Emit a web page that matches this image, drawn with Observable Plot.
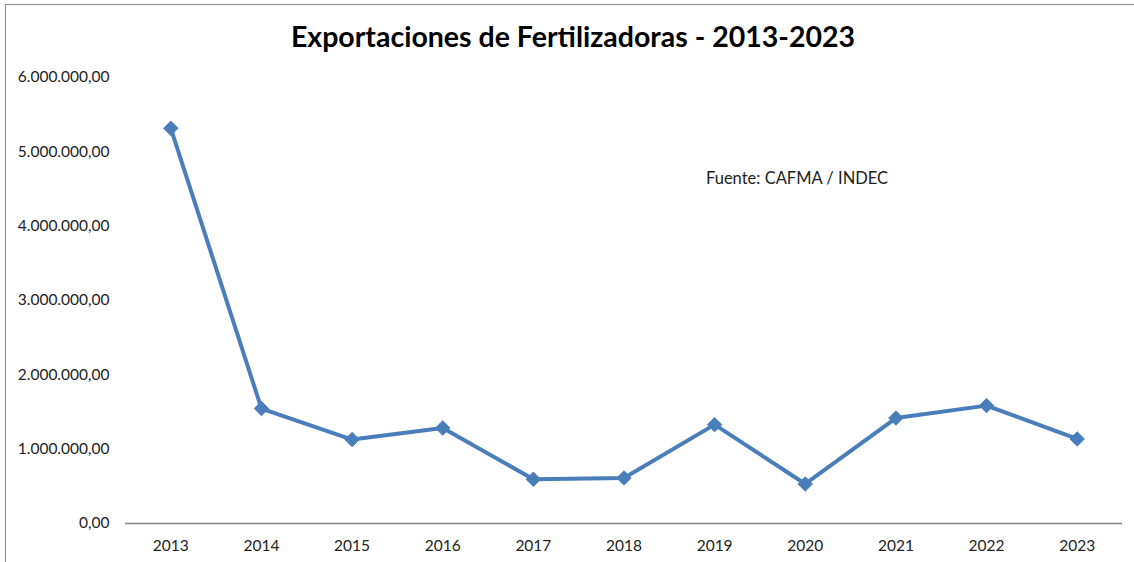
<!DOCTYPE html>
<html>
<head>
<meta charset="utf-8">
<script src="https://cdn.jsdelivr.net/npm/d3@7"></script>
<script src="https://cdn.jsdelivr.net/npm/@observablehq/plot@0.6"></script>
<style>
  html, body { margin: 0; padding: 0; background: #fff; }
  #wrap { position: relative; width: 1134px; height: 562px; overflow: hidden; font-family: Lato, "Open Sans", sans-serif; }
  #frame { position: absolute; left: 5px; top: 4px; width: 1140px; height: 600px; border-left: 1.5px solid #8a8a8a; border-top: 1.5px solid #8a8a8a; box-sizing: border-box; pointer-events: none; }
  #title { height: 60px; line-height: 60px; padding-top: 6px; box-sizing: border-box; text-align: center; font-weight: bold; font-size: 28.5px; color: #000; padding-left: 12px; }
  #source { position: absolute; left: 706px; top: 168px; font-size: 16.5px; color: #222; }
  #chart svg { display: block; }
</style>
</head>
<body>
<div id="wrap">
  <div id="frame"></div>
  <div id="title">Exportaciones de Fertilizadoras - 2013-2023</div>
  <div id="chart"></div>
  <div id="source">Fuente: CAFMA / INDEC</div>
</div>
<script>
const years = ["2013","2014","2015","2016","2017","2018","2019","2020","2021","2022","2023"];
const exportsValues = [5317000, 1546000, 1129000, 1285000, 595000, 613000, 1330000, 532000, 1419000, 1586000, 1137000];
const yTicks = [0, 1000000, 2000000, 3000000, 4000000, 5000000, 6000000];

const data = years.map((y, i) => ({year: y, value: exportsValues[i]}));
const locale = d3.formatLocale({decimal: ",", thousands: ".", grouping: [3], currency: ["$", ""]});
const fmt = locale.format(",.2f");
const blue = "#4a7ebb";

const chart = Plot.plot({
  width: 1134,
  height: 502,
  marginTop: 17,
  marginBottom: 39,
  marginLeft: 125,
  marginRight: 12,
  style: {fontFamily: "Lato, 'Open Sans', sans-serif", fontSize: "15.5px", color: "#222", background: "transparent"},
  x: {type: "band", domain: years, padding: 0, round: false, label: null, tickSize: 0, tickPadding: 16},
  y: {domain: [0, 6000000], ticks: yTicks, tickFormat: fmt, label: null, tickSize: 0, tickPadding: 16},
  marks: [
    Plot.ruleY([0], {stroke: "#868686", strokeWidth: 1.5}),
    Plot.line(data, {x: "year", y: "value", stroke: blue, strokeWidth: 4, curve: "linear"}),
    Plot.dot(data, {x: "year", y: "value", symbol: "diamond2", fill: blue, stroke: blue, strokeWidth: 1, r: 6.5})
  ]
});
document.getElementById("chart").appendChild(chart);
</script>
</body>
</html>
